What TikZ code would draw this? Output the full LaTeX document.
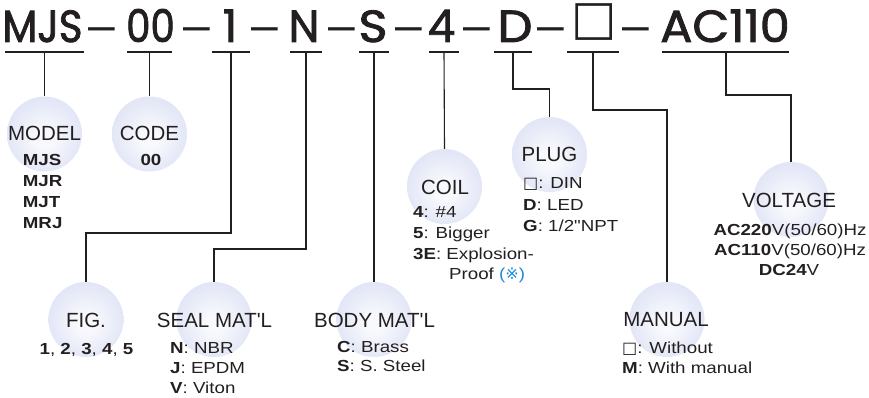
\documentclass[tikz,border=0pt]{standalone}
\usepackage{fontspec}
\setmainfont{Liberation Sans}
\newfontfamily\hdrfont[FakeBold=1.8]{Poppins}
\newfontfamily\detfont[FakeStretch=1.17]{Liberation Sans}
\newfontfamily\symfont{DejaVu Sans}
\definecolor{ink}{RGB}{35,31,32}
\definecolor{ballin}{RGB}{248,249,253}
\definecolor{ballout}{RGB}{226,230,246}
\definecolor{refblue}{RGB}{30,140,215}
\pgfdeclareradialshading{ballshade}{\pgfpoint{0bp}{-3bp}}{color(0bp)=(ballin); color(6bp)=(ballin); color(25bp)=(ballout); color(50bp)=(ballout)}
\tikzset{
  ball/.style={circle, minimum size=75pt, inner sep=0pt, shading=ballshade},
  title/.style={font=\fontsize{20.5}{24}\selectfont, text=ink, inner sep=0pt, anchor=base},
  det/.style={font=\detfont\fontsize{16}{20}\selectfont, text=ink, inner sep=0pt, anchor=base west},
  detc/.style={det, anchor=base},
  hdr/.style={font=\hdrfont\fontsize{45}{50}\selectfont, text=ink, inner sep=0pt, anchor=base},
  hdash/.style={font=\fontsize{48}{50}\selectfont, text=ink, inner sep=0pt, anchor=base},
  uline/.style={inner sep=0pt, minimum height=0pt},
  conn/.style={draw=ink, line width=1.1pt},
}
\begin{document}
\begin{tikzpicture}[x=1pt,y=-1pt]
\useasboundingbox (0,0) rectangle (869,398);
% circles
\node[ball] (cMODEL) at (44.5,134) {};
\node[ball] (cCODE) at (149.5,134) {};
\node[ball] (cCOIL) at (444.5,186.5) {};
\node[ball] (cPLUG) at (549.5,154.5) {};
\node[ball] (cVOLT) at (791,199.5) {};
\node[ball] (cFIG) at (86,319.5) {};
\node[ball] (cSEAL) at (214,319.5) {};
\node[ball] (cBODY) at (374,319.5) {};
\node[ball] (cMANUAL) at (667,319.5) {};
% header
\node[hdr] (hMJS) at (42.5,42) {\scalebox{0.9}[1]{MJS}};
\node[hdash] (d1) at (101.5,42) {–};
\node[hdr] (h00) at (150.5,42) {\scalebox{0.86}[1]{00}};
\node[hdash] (d2) at (196.5,42) {–};
\node[hdr] (h1) at (230,42) {1};
\node[hdash] (d3) at (265,42) {–};
\node[hdr] (hN) at (304,42) {\scalebox{0.97}[1]{N}};
\node[hdash] (d4) at (341.5,42) {–};
\node[hdr] (hS) at (373,42) {\scalebox{1.1}[1]{S}};
\node[hdash] (d5) at (408.5,42) {–};
\node[hdr] (h4) at (441.5,42) {\scalebox{0.97}[1]{4}};
\node[hdash] (d6) at (476.5,42) {–};
\node[hdr] (hD) at (515,42) {\scalebox{1.1}[1]{D}};
\node[hdash] (d7) at (550.5,42) {–};
\node[hdr, font=\symfont\bfseries\fontsize{48}{52}\selectfont, text height=23pt, text depth=10pt] (hBox) at (594.5,34.3) {□};
\node[hdash] (d8) at (636,42) {–};
\node[hdr] (hAC) at (725,42) {\scalebox{1.06}[1]{AC110}};
% underlines
\node[uline, minimum width=79pt] (uMJS) at (44.5,52) {};
\node[uline, minimum width=44pt] (u00) at (149.5,52) {};
\node[uline, minimum width=38pt] (u1) at (231,52) {};
\node[uline, minimum width=31pt] (uN) at (306,52) {};
\node[uline, minimum width=30pt] (uS) at (374,52) {};
\node[uline, minimum width=30pt] (u4) at (444,52) {};
\node[uline, minimum width=38pt] (uD) at (513,52) {};
\node[uline, minimum width=52pt] (uBox) at (593,52) {};
\node[uline, minimum width=127pt] (uAC) at (725.5,52) {};
\foreach \u in {uMJS,u00,u1,uN,uS,u4,uD,uBox,uAC}
  \draw[conn] (\u.west) -- (\u.east);
% connectors
\draw[conn] (uMJS.center) -- (cMODEL.north);
\draw[conn] (u00.center) -- (cCODE.north);
\draw[conn] (u1.center) -- ++(0,181) -| (cFIG.north);
\draw[conn] (uN.center) -- ++(0,197) -| (cSEAL.north);
\draw[conn] (uS.center) -- (cBODY.north);
\draw[conn] (u4.center) -- (cCOIL.north);
\draw[conn] (uD.center) -- ++(0,37) -| (cPLUG.north);
\draw[conn] (uBox.center) -- ++(0,58) -| (cMANUAL.north);
\draw[conn] ([xshift=0.5pt]uAC.center) -- ++(0,43) -| (cVOLT.north);
% titles
\node[title] (tMODEL) at (44.5,140.7) {MODEL};
\node[title] (tCODE) at (149.5,140.7) {CODE};
\node[title] (tCOIL) at (445,194) {COIL};
\node[title] (tPLUG) at (549.5,162) {PLUG};
\node[title] (tVOLT) at (789,207) {VOLTAGE};
\node[title] (tFIG) at (86,327) {FIG.};
\node[title] (tSEAL) at (214.5,327) {SEAL MAT\textquotesingle L};
\node[title] (tBODY) at (374.5,327) {BODY MAT\textquotesingle L};
\node[title] (tMANUAL) at (666,326) {MANUAL};
% details
\node[det] (m1) at (22.7,165) {\bfseries MJS};
\node[det] (m2) at (22.7,186) {\bfseries MJR};
\node[det] (m3) at (22.7,207) {\bfseries MJT};
\node[det] (m4) at (22.7,228) {\bfseries MRJ};
\node[detc] (k1) at (151,165) {\bfseries 00};
\node[det] (co1) at (413,217) {\textbf{4}: \#4};
\node[det] (co2) at (413,238) {\textbf{5}: Bigger};
\node[det] (co3) at (413,259) {\textbf{3E}: Explosion-};
\node[det] (co4) at (449,279) {Proof {\color{refblue}({\symfont ※})}};
\node[det] (p1) at (523,189) {{\symfont □}: DIN};
\node[det] (p2) at (523,210) {\textbf{D}: LED};
\node[det] (p3) at (523,231) {\textbf{G}: 1/2"NPT};
\node[detc] (v1) at (790,235) {\textbf{AC220}V(50/60)Hz};
\node[detc] (v2) at (790,255) {\textbf{AC110}V(50/60)Hz};
\node[detc] (v3) at (789,275) {\textbf{DC24}V};
\node[detc] (f1) at (86.5,354) {\textbf{1}, \textbf{2}, \textbf{3}, \textbf{4}, \textbf{5}};
\node[det] (s1) at (170,353) {\textbf{N}: NBR};
\node[det] (s2) at (170,373) {\textbf{J}: EPDM};
\node[det] (s3) at (170,393) {\textbf{V}: Viton};
\node[det] (b1) at (337,352) {\textbf{C}: Brass};
\node[det] (b2) at (337,371) {\textbf{S}: S. Steel};
\node[det] (ma1) at (622,353) {{\symfont □}: Without};
\node[det] (ma2) at (622,373) {\textbf{M}: With manual};
\end{tikzpicture}
\end{document}
